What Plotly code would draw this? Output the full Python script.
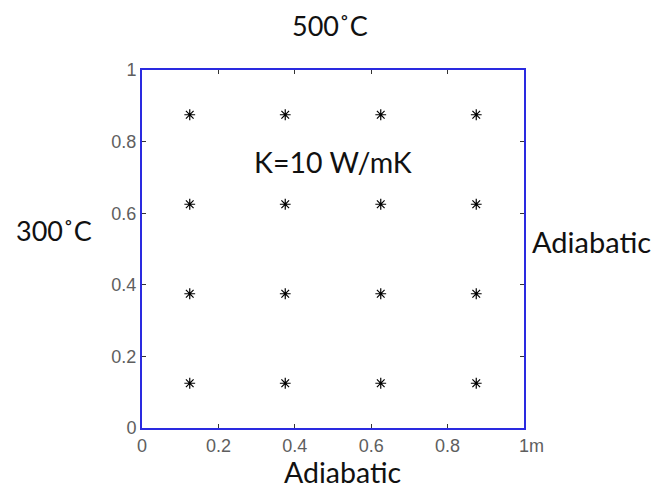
import plotly.graph_objects as go

# Data
node_x = [0.125, 0.375, 0.625, 0.875]
node_y = [0.125, 0.375, 0.625, 0.875]
tick_vals = [0, 0.2, 0.4, 0.6, 0.8, 1]
x_tick_text = ["0", "0.2", "0.4", "0.6", "0.8", "\u00a0\u00a0\u00a01m"]
y_tick_text = ["0", "0.2", "0.4", "0.6", "0.8", "1"]
top_label = "500˚C"
left_label = "300˚C"
right_label = "Adiabatic"
bottom_label = "Adiabatic"
center_label = "K=10 W/mK"

xs = [x for y in node_y for x in node_x]
ys = [y for y in node_y for x in node_x]

fig = go.Figure()
fig.add_trace(go.Scatter(
    x=xs, y=ys, mode="markers",
    marker=dict(symbol="asterisk-open", size=9, color="black",
                line=dict(color="black", width=1.2)),
    showlegend=False, hoverinfo="skip"))

axis_common = dict(
    range=[0, 1], showgrid=False, zeroline=False,
    showline=True, linecolor="#2a2ae0", linewidth=2, mirror="ticks",
    ticks="inside", ticklen=4, tickcolor="#333333", tickwidth=1,
    tickvals=tick_vals,
    tickfont=dict(family="Liberation Sans, Arial, sans-serif", size=18, color="#5e5e5e"),
)
fig.update_xaxes(**axis_common, ticktext=x_tick_text)
fig.update_yaxes(**axis_common, ticktext=y_tick_text)

txt_font = dict(family="Lato, Noto Sans, sans-serif", color="#111111")
annos = [
    dict(text=top_label, x=0.491, y=1.125, size=27),
    dict(text=center_label, x=0.500, y=0.742, size=28.5),
    dict(text=left_label, x=-0.230, y=0.553, size=27),
    dict(text=right_label, x=1.177, y=0.521, size=29),
    dict(text=bottom_label, x=0.524, y=-0.122, size=28.5),
]
for a in annos:
    fig.add_annotation(text=a["text"], x=a["x"], y=a["y"], xref="paper", yref="paper",
                       showarrow=False,
                       font=dict(size=a["size"], **txt_font),
                       xanchor="center", yanchor="middle")

fig.update_layout(
    width=659, height=489,
    margin=dict(l=134, r=143, t=62, b=69),
    paper_bgcolor="white", plot_bgcolor="white",
)
fig.write_html("out.html")
